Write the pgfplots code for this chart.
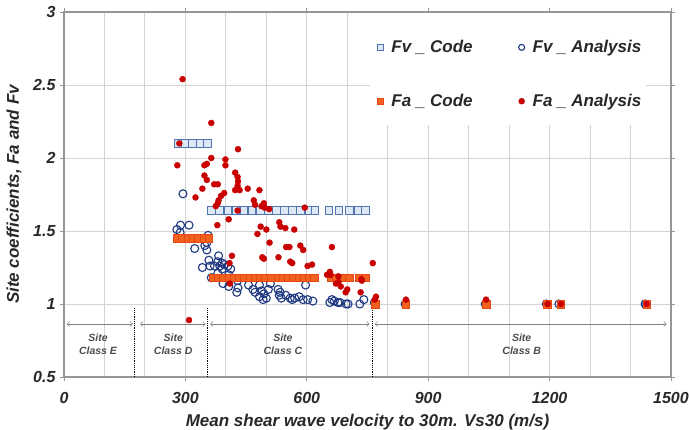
\documentclass[border=0pt]{standalone}
\usepackage{fontspec}
\setmainfont{Liberation Sans}
\usepackage{pgfplots}
\pgfplotsset{compat=1.18}
\usetikzlibrary{arrows.meta}
\definecolor{fvcode}{RGB}{79,118,178}
\definecolor{fvcodefill}{RGB}{222,231,244}
\definecolor{fvan}{RGB}{31,56,130}
\definecolor{facode}{RGB}{242,98,30}
\definecolor{facodedraw}{RGB}{230,70,20}
\definecolor{faan}{RGB}{200,0,0}
\definecolor{frame}{RGB}{150,150,150}
\definecolor{gridc}{RGB}{212,212,212}
\definecolor{txt}{RGB}{40,40,40}
\begin{document}
\begin{tikzpicture}
\begin{axis}[
  at={(0,0)}, anchor=south west,
  scale only axis, width=607pt, height=365pt,
  xmin=0, xmax=1500, ymin=0.5, ymax=3,
  xtick={0,300,600,900,1200,1500},
  xticklabels={0,300,600,900,1200,1500},
  minor xtick={100,200,400,500,700,800,1000,1100,1300,1400},
  ytick={0.5,1,1.5,2,2.5,3},
  yticklabels={0.5,1,1.5,2,2.5,3},
  /pgf/number format/assume math mode=true,
  xmajorgrids, ymajorgrids, xminorgrids,
  major grid style={gridc, line width=0.9pt},
  minor grid style={gridc, line width=0.9pt},
  axis line style={frame, line width=2.4pt},
  tick align=outside, major tick length=4pt, minor tick length=0pt,
  tick style={frame, line width=0.9pt},
  every tick label/.append style={font=\fontsize{16}{18}\selectfont\bfseries\itshape, text=txt},
  xticklabel style={yshift=-8pt},
  yticklabel style={xshift=-1pt},
  xlabel={Mean shear wave velocity to 30m. Vs30 (m/s)},
  ylabel={Site coefficients, Fa and Fv},
  label style={font=\fontsize{17}{20}\selectfont\bfseries\itshape, text=txt},
  xlabel style={at={(axis description cs:0.5,0)}, anchor=base, yshift=-49pt},
  ylabel style={at={(axis description cs:-0.0824,0.5)}, anchor=center},
  legend columns=2,
  legend cell align=left,
  legend style={at={(axis cs:774,2.82)}, anchor=north west, draw=none, fill=none,
    font=\fontsize{17}{20}\selectfont\bfseries\itshape, text=txt, inner sep=0pt,
    row sep=36pt,
    /tikz/every odd column/.append style={column sep=6pt},
    /tikz/every even column/.append style={column sep=44pt}},
  legend image code/.code={\draw[mark repeat=2,mark phase=2,#1] plot coordinates {(0cm,0cm) (0.15cm,0cm) (0.3cm,0cm)};},
  legend image post style={mark size=3pt},
]
\fill[white] (axis cs:756,2.228) rectangle (axis cs:1438,2.995);

% Fv_Code
\addplot[only marks, mark=square*, mark size=3.8pt, mark options={draw=fvcode, fill=fvcodefill, line width=1pt}] coordinates {
(282,2.1) (300,2.1) (318,2.1) (336,2.1) (354,2.1)
(365,1.64) (385,1.64) (405,1.64) (425,1.64) (445,1.64) (465,1.64) (485,1.64) (505,1.64) (525,1.64) (545,1.64) (565,1.64) (585,1.64) (605,1.64) (620,1.64)
(655,1.64) (680,1.64) (705,1.64) (728,1.64) (745,1.64)
(770,1.0) (845,1.0) (1043,1.0) (1195,1.0) (1228,1.0) (1440,1.0)
};
\addlegendentry{Fv \_ Code}

% Fv_Analysis
\addplot[only marks, mark=o, mark size=4pt, mark options={draw=fvan, line width=1.1pt}] coordinates {
(294,1.755) (279,1.51) (288,1.54) (309,1.54) (287,1.49) (356,1.47) (353,1.42) (348,1.40) (353,1.37) (323,1.38)
(342,1.25) (358,1.30) (361,1.26) (372,1.26) (382,1.33) (380,1.29) (391,1.28) (385,1.26) (396,1.27) (405,1.26)
(412,1.24) (391,1.24) (380,1.21) (407,1.20) (364,1.18) (393,1.14) (407,1.12) (429,1.16) (427,1.08) (430,1.11)
(456,1.13) (467,1.10) (472,1.08) (483,1.13) (488,1.09) (492,1.03) (494,1.07) (500,1.04) (483,1.05) (505,1.10)
(510,1.14) (529,1.10) (534,1.08) (532,1.06) (537,1.04) (548,1.06) (559,1.04) (564,1.03) (570,1.04) (581,1.05)
(591,1.03) (602,1.03) (615,1.02) (597,1.13) (662,1.03) (657,1.01) (668,1.02) (677,1.01) (682,1.01)
(697,1.00) (702,1.00) (731,1.00) (741,1.03) (767,1.01) (843,1.00) (1041,1.00) (1192,1.00) (1223,1.00) (1436,1.00)
};
\addlegendentry{Fv \_ Analysis}

% Fa_Code
\addplot[only marks, mark=square*, mark size=3.8pt, mark options={draw=facodedraw, fill=facode, line width=0.6pt}] coordinates {
(280,1.45) (293,1.45) (306,1.45) (319,1.45) (332,1.45) (345,1.45) (358,1.45)
(368,1.18) (381,1.18) (394,1.18) (407,1.18) (420,1.18) (433,1.18) (446,1.18) (459,1.18) (472,1.18) (485,1.18) (498,1.18) (511,1.18)
(528,1.18) (541,1.18) (554,1.18) (567,1.18) (580,1.18) (593,1.18) (606,1.18) (618,1.18)
(660,1.18) (673,1.18) (693,1.18) (705,1.18) (730,1.18) (745,1.18)
(770,1.0) (845,1.0) (1043,1.0) (1195,1.0) (1228,1.0) (1440,1.0)
};
\addlegendentry{Fa \_ Code}

% Fa_Analysis
\addplot[only marks, mark=*, mark size=3pt, mark options={draw=faan, fill=faan}] coordinates {
(293,2.54) (364,2.24) (285,2.10) (280,1.95) (430,2.06) (399,1.99) (399,1.95) (364,2.00) (353,1.96) (347,1.95)
(347,1.88) (353,1.85) (342,1.79) (325,1.73) (371,1.82) (380,1.82) (423,1.90) (429,1.87) (430,1.84) (429,1.81)
(434,1.78) (423,1.78) (454,1.79) (396,1.76) (388,1.74) (382,1.71) (380,1.69) (375,1.67) (483,1.78) (469,1.71)
(472,1.68) (494,1.69) (488,1.67) (496,1.66) (429,1.64) (407,1.58) (379,1.54) (507,1.65) (595,1.66) (478,1.48)
(486,1.53) (500,1.51) (508,1.42) (532,1.56) (535,1.53) (547,1.52) (569,1.51) (549,1.39) (557,1.39) (530,1.32)
(494,1.31) (490,1.32) (559,1.29) (564,1.28) (584,1.40) (591,1.37) (602,1.26) (613,1.27) (662,1.39) (657,1.22)
(659,1.20) (678,1.15) (684,1.12) (700,1.10) (733,1.08) (735,1.17) (763,1.28) (771,1.05) (415,1.33) (409,1.28)
(309,0.89) (678,1.19) (410,1.14) (650,1.20) (672,1.14) (696,1.08) (736,1.16)
(768,1.03) (845,1.03) (1043,1.03) (1195,1.0) (1228,1.0) (1440,1.0)
};
\addlegendentry{Fa \_ Analysis}

% site class annotations
\draw[densely dotted, black, line width=1.2pt] (axis cs:175,0.5) -- (axis cs:175,0.97);
\draw[densely dotted, black, line width=1.2pt] (axis cs:355,0.5) -- (axis cs:355,0.97);
\draw[densely dotted, black, line width=1.2pt] (axis cs:762,0.5) -- (axis cs:762,0.98);
\draw[{Straight Barb[length=2.5pt,width=5pt]}-{Straight Barb[length=2.5pt,width=5pt]}, gray, line width=0.5pt] (axis cs:7,0.863) -- (axis cs:170,0.863);
\draw[{Straight Barb[length=2.5pt,width=5pt]}-{Straight Barb[length=2.5pt,width=5pt]}, gray, line width=0.5pt] (axis cs:188,0.863) -- (axis cs:350,0.863);
\draw[{Straight Barb[length=2.5pt,width=5pt]}-{Straight Barb[length=2.5pt,width=5pt]}, gray, line width=0.5pt] (axis cs:361,0.863) -- (axis cs:755,0.863);
\draw[{Straight Barb[length=2.5pt,width=5pt]}-{Straight Barb[length=2.5pt,width=5pt]}, gray, line width=0.5pt] (axis cs:768,0.863) -- (axis cs:1489,0.863);
\tikzset{siteclass/.style={font=\fontsize{10.5}{12.5}\selectfont\bfseries\itshape, text=black!70, align=center}}
\node[siteclass] at (axis cs:84,0.724) {Site\\Class E};
\node[siteclass] at (axis cs:270,0.724) {Site\\Class D};
\node[siteclass] at (axis cs:541,0.724) {Site\\Class C};
\node[siteclass] at (axis cs:1131,0.724) {Site\\Class B};
\end{axis}
\pgfresetboundingbox
\path[use as bounding box] (-64pt,-52pt) rectangle (625pt,377pt);
\end{tikzpicture}
\end{document}
